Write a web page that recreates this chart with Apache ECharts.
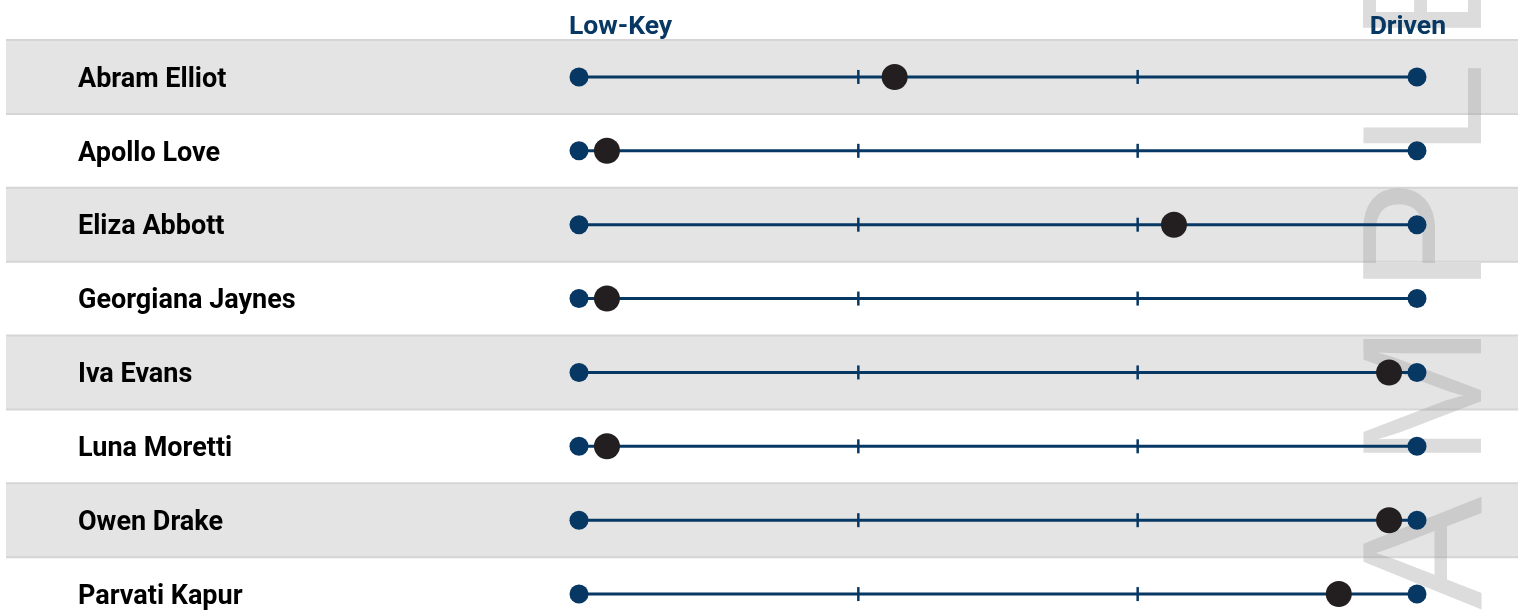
<!DOCTYPE html>
<html>
<head>
<meta charset="utf-8">
<script src="https://cdn.jsdelivr.net/npm/echarts@6/dist/echarts.min.js"></script>
<style>
  html, body { margin: 0; padding: 0; background: #fff; }
  #chart { width: 1525px; height: 610px; }
</style>
</head>
<body>
<div id="chart"></div>
<script>
// people and where each one sits on the Low-Key -> Driven scale
const names = ['Abram Elliot', 'Apollo Love', 'Eliza Abbott', 'Georgiana Jaynes', 'Iva Evans', 'Luna Moretti', 'Owen Drake', 'Parvati Kapur']
const scores = [11.3, 1.0, 21.3, 1.0, 29.0, 1.0, 29.0, 27.2]
const scaleMin = 0
const scaleMax = 30
const scaleTicks = [10, 20]
const endLabels = ['Low-Key', 'Driven']

// watermark letters (reading bottom to top) and their centres down the page
const watermark = ['A', 'M', 'P', 'L', 'E']
const watermarkY = [553, 396, 236, 110, -15]

const navy = '#073763'
const chart = echarts.init(document.getElementById('chart'))

const renderBand = (params, api) => {
  const i = api.value(1)
  if (i % 2) return null
  const c = api.coord([scaleMin, i])
  const h = api.size([0, 1])[1]
  const top = c[1] - h / 2
  return {
    type: 'group',
    children: [
      { type: 'rect', shape: { x: 6, y: top, width: 1512, height: h }, style: { fill: '#e4e4e4' } },
      { type: 'rect', shape: { x: 6, y: top - 1, width: 1512, height: 2 }, style: { fill: '#d5d5d5' } },
      { type: 'rect', shape: { x: 6, y: top + h - 1, width: 1512, height: 2 }, style: { fill: '#d5d5d5' } }
    ]
  }
}

const renderTrack = (params, api) => {
  const i = api.value(1)
  const a = api.coord([scaleMin, i])
  const b = api.coord([scaleMax, i])
  const children = [
    { type: 'line', shape: { x1: a[0], y1: a[1], x2: b[0], y2: b[1] }, style: { stroke: navy, lineWidth: 3 } }
  ]
  scaleTicks.forEach(t => {
    const p = api.coord([t, i])
    children.push({ type: 'line', shape: { x1: p[0], y1: p[1] - 7, x2: p[0], y2: p[1] + 7 }, style: { stroke: navy, lineWidth: 2.5 } })
  })
  children.push({ type: 'circle', shape: { cx: a[0], cy: a[1], r: 9.5 }, style: { fill: navy } })
  children.push({ type: 'circle', shape: { cx: b[0], cy: b[1], r: 9.5 }, style: { fill: navy } })
  return { type: 'group', children }
}

const option = {
  animation: false,
  grid: { left: 579, right: 108, top: 40, bottom: -21, outerBoundsMode: 'none' },
  xAxis: { type: 'value', min: scaleMin, max: scaleMax, show: false },
  yAxis: {
    type: 'category',
    inverse: true,
    z: 10,
    data: names,
    axisLine: { show: false },
    axisTick: { show: false },
    splitLine: { show: false },
    axisLabel: {
      align: 'left',
      margin: 501,
      formatter: '{n|{value}}',
      rich: {
        n: {
          padding: [6, 0, 0, 0],
          fontFamily: 'Roboto',
          fontWeight: 'bold',
          fontSize: 27,
          color: '#000'
        }
      }
    }
  },
  graphic: [
    {
      type: 'text', x: 569, y: 27, z: 10,
      style: { text: endLabels[0], fontFamily: 'Roboto', fontWeight: 'bold', fontSize: 26.5, fill: navy, align: 'left', verticalAlign: 'middle' }
    },
    {
      type: 'text', x: 1446, y: 27, z: 10,
      style: { text: endLabels[1], fontFamily: 'Roboto', fontWeight: 'bold', fontSize: 26.5, fill: navy, align: 'right', verticalAlign: 'middle' }
    },
    ...watermark.map((ch, k) => ({
      type: 'text', x: 1434, y: watermarkY[k], rotation: Math.PI / 2, z: 2,
      style: { text: ch, fontFamily: 'Liberation Sans', fontSize: 170, fill: 'rgba(160,160,160,0.37)', align: 'center', verticalAlign: 'middle' }
    }))
  ],
  series: [
    { type: 'custom', z: 1, silent: true, renderItem: renderBand, data: names.map((n, i) => [scaleMin, i]) },
    { type: 'custom', z: 3, silent: true, renderItem: renderTrack, data: names.map((n, i) => [scaleMin, i]) },
    {
      type: 'scatter',
      z: 4,
      symbolSize: 26,
      itemStyle: { color: '#231f20', opacity: 1 },
      data: scores.map((v, i) => [v, i])
    }
  ]
}

chart.setOption(option)
</script>
</body>
</html>
